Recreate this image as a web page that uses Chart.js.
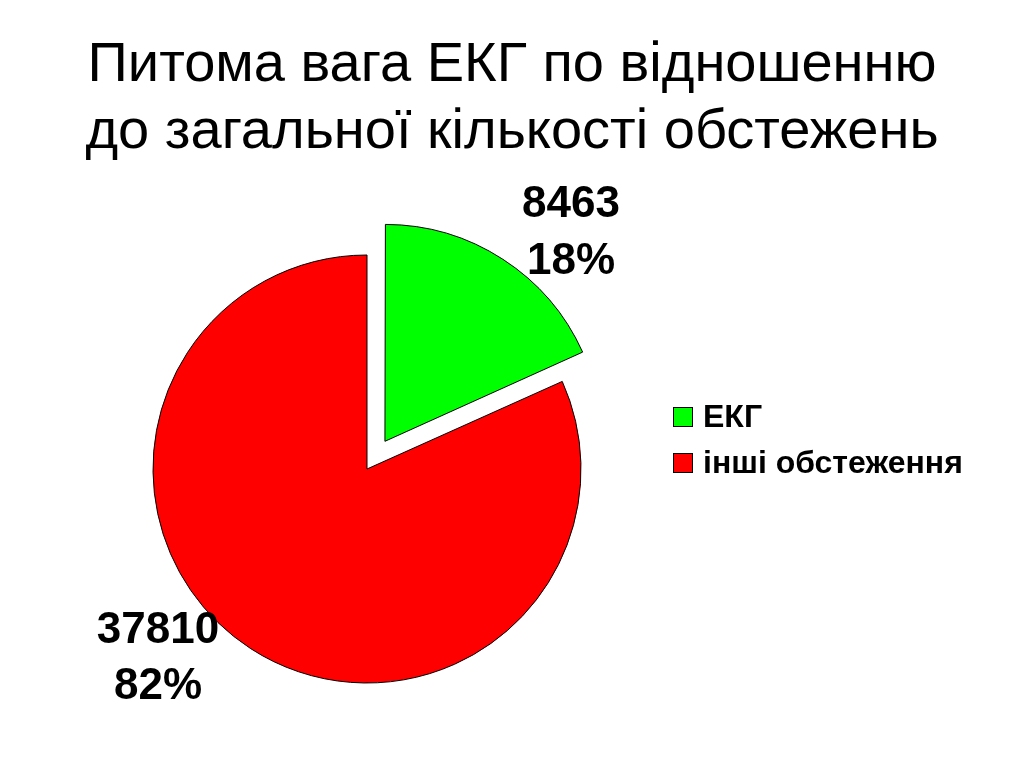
<!DOCTYPE html>
<html>
<head>
<meta charset="utf-8">
<script src="https://cdn.jsdelivr.net/npm/chart.js@4/dist/chart.umd.min.js"></script>
<style>
html,body{margin:0;padding:0;background:#fff;}
#wrap{position:relative;width:1024px;height:768px;}
</style>
</head>
<body>
<div id="wrap"><canvas id="c" width="1024" height="768"></canvas></div>
<script>
const titleLines = ['Питома вага ЕКГ по відношенню', 'до загальної кількості обстежень'];
const categories = ['ЕКГ', 'інші обстеження'];
const values = [8463, 37810];
const percents = ['18%', '82%'];
const colors = ['#00FF00', '#FF0000'];

const FONT = '"Liberation Sans", Arial, Helvetica, sans-serif';

const drawExtras = {
  id: 'drawExtras',
  afterDraw(chart) {
    const ctx = chart.ctx;
    ctx.save();
    // title
    ctx.fillStyle = '#000';
    ctx.font = '56px ' + FONT;
    ctx.textAlign = 'center';
    ctx.textBaseline = 'middle';
    ctx.fillText(titleLines[0], 512, 66);
    ctx.fillText(titleLines[1], 512, 133);

    // data labels
    const meta = chart.getDatasetMeta(0);
    const labelPos = [[571, 205, 262], [158, 631, 687]];
    ctx.font = 'bold 44px ' + FONT;
    meta.data.forEach((arc, i) => {
      const p = labelPos[i];
      ctx.fillText(String(values[i]), p[0], p[1]);
      ctx.fillText(percents[i], p[0], p[2]);
    });

    // legend
    ctx.textAlign = 'left';
    ctx.font = 'bold 32px ' + FONT;
    const ly = [417, 463];
    categories.forEach((c, i) => {
      ctx.fillStyle = colors[i];
      ctx.fillRect(673, ly[i] - 10, 20, 20);
      ctx.strokeStyle = '#000';
      ctx.lineWidth = 1;
      ctx.strokeRect(673.5, ly[i] - 9.5, 19, 19);
      ctx.fillStyle = '#000';
      ctx.fillText(c, 703, ly[i] + 1);
    });
    ctx.restore();
  }
};

new Chart(document.getElementById('c'), {
  type: 'pie',
  data: {
    labels: categories,
    datasets: [{
      data: values,
      backgroundColor: colors,
      borderColor: '#000',
      borderWidth: 1,
      offset: [132, 0]
    }]
  },
  options: {
    responsive: false,
    animation: false,
    radius: 214,
    layout: { padding: { left: 135, right: 425, top: 238, bottom: 68 } },
    plugins: {
      legend: { display: false },
      title: { display: false },
      tooltip: { enabled: false }
    }
  },
  plugins: [drawExtras]
});
</script>
</body>
</html>
